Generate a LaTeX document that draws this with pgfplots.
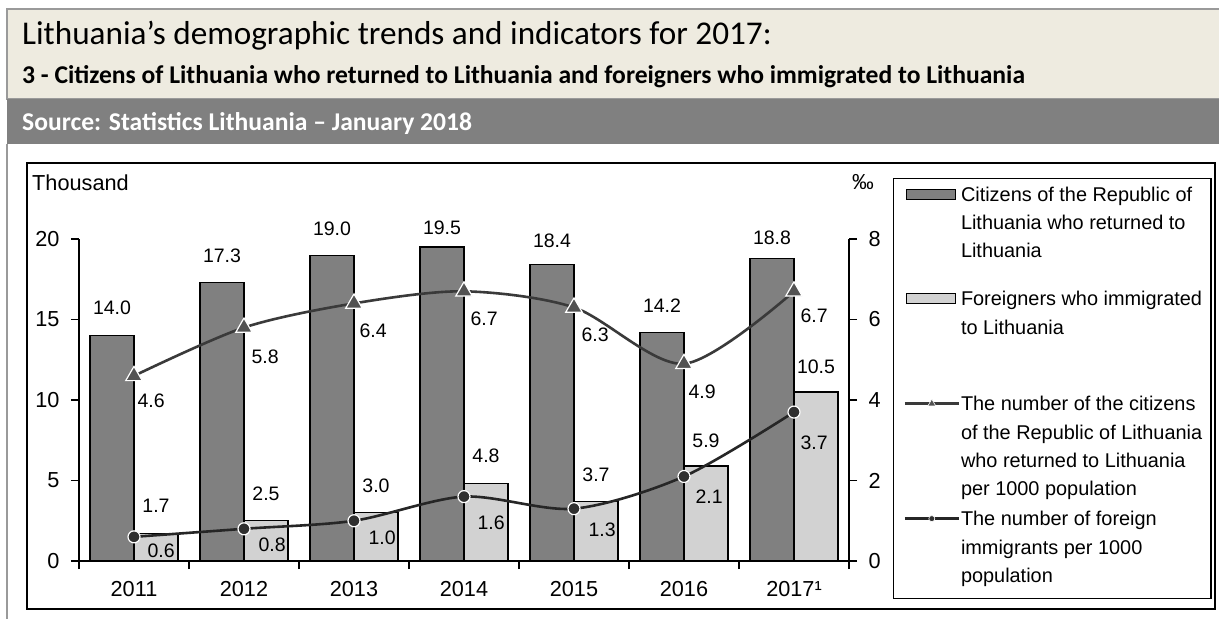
\documentclass[border=0pt]{standalone}
\usepackage{pgfplots}
\usepackage{pgfplotstable}
\pgfplotsset{compat=1.18}
\usepackage{fontspec}
\setmainfont{Liberation Sans}
\newfontfamily\calibri{Carlito}

\definecolor{beige}{HTML}{EEEBE0}
\definecolor{band}{HTML}{808080}
\definecolor{framegray}{HTML}{9A9A9A}
\definecolor{darkbar}{HTML}{808080}
\definecolor{lightbar}{HTML}{D2D2D2}
\definecolor{triline}{HTML}{3A3A3A}
\definecolor{dotline}{HTML}{262626}
\definecolor{trifill}{HTML}{525252}
\definecolor{dotfill}{HTML}{303030}

\newcommand\tickfont{\fontsize{21.7}{26}\selectfont}
\newcommand\labfont{\fontsize{19.5}{23}\selectfont}
\newcommand\legfont{\fontsize{19.9}{24}\selectfont}
% legend line: strut height (pt) + text
\newcommand\legline[2]{\makebox[240pt][l]{\rule{0pt}{#1pt}#2}}

% thousand; dy = label baseline above bar top
\pgfplotstableread{
x y dy
0 14.0 20
1 17.3 19
2 19.0 19
3 19.5 12
4 18.4 16
5 14.2 19
6 18.8 13
}\returned
\pgfplotstableread{
x y dy
0 1.7 21
1 2.5 19
2 3.0 19
3 4.8 20
4 3.7 19
5 5.9 18
6 10.5 18
}\foreign
% per 1000 population; dx, dy = label offset from the mark
\pgfplotstableread{
x y dx dy
0 4.6 3 32
1 5.8 7 36
2 6.4 5 34
3 6.7 6 34
4 6.3 7 34
5 4.9 4 35
6 6.7 6 31
}\rateret
\pgfplotstableread{
x y dx dy
0 0.6 13 21
1 0.8 14 23
2 1.0 14 24
3 1.6 13 33
4 1.3 14 28
5 2.1 11 27
6 3.7 6 37
}\ratefor

\pgfplotsset{
  barleg/.style={legend image code/.code={\draw[##1] (2pt,2pt) rectangle (51pt,12pt);}},
  lineleg/.style={legend image code/.code={%
    \draw[mark repeat=2,mark phase=2,##1] plot coordinates {(0pt,7pt) (27pt,7pt) (54pt,7pt)};}},
  chartaxis/.style={
    at={(79pt,58pt)}, anchor=south west,
    scale only axis, width=770pt, height=322pt,
    xmin=-0.5, xmax=6.5, clip=false,
    tick align=outside, major tick length=8pt,
    axis line style={line width=1.3pt},
    tick style={line width=1.3pt, black},
    tick label style={font=\tickfont},
    /pgf/number format/assume math mode=true,
  },
}

\begin{document}
\begin{tikzpicture}[x=1pt,y=1pt]
\useasboundingbox (0,0) rectangle (1219,619);
\fill[white] (0,0) rectangle (1219,619);

% header
\fill[beige] (7,520) rectangle (1219,610);
\draw[framegray, line width=1.5pt] (1219,610) -- (7,610) -- (7,520) -- (1219,520);
\fill[band] (7,475) rectangle (1219,520);
\draw[framegray, line width=1.2pt] (7,475) -- (7,0);
\node[anchor=base west, inner sep=0pt] at (22,574)
  {\calibri\fontsize{33.2}{38}\selectfont Lithuania’s demographic trends and indicators for 2017:};
\node[anchor=base west, inner sep=0pt] at (22,535)
  {\calibri\bfseries\fontsize{25.6}{30}\selectfont 3 - Citizens of Lithuania who returned to Lithuania and foreigners who immigrated to Lithuania};
\node[anchor=base west, inner sep=0pt, text=white] at (22,488)
  {\calibri\bfseries\fontsize{25.6}{30}\selectfont Source: Statistics Lithuania – January 2018};

% chart frame
\draw[black, line width=1.2pt] (27,10) rectangle (1215,456);

\begin{axis}[chartaxis,
  ymin=0, ymax=20,
  axis x line*=bottom, axis y line*=left,
  xtick={-0.5,0.5,...,6.5},
  xticklabels={2011,2012,2013,2014,2015,2016,2017¹,},
  xticklabel style={xshift=55pt, yshift=-9pt},
  yticklabel style={xshift=-8pt},
  ytick={0,5,10,15,20},
]
\addplot[ybar, bar width=0.4, bar shift=-0.2, fill=darkbar, draw=black, line width=1.2pt,
  point meta=explicit symbolic,
  visualization depends on={\thisrow{dy} \as \laby},
  nodes near coords,
  nodes near coords style={anchor=south, xshift=-22pt, yshift=\laby pt, inner sep=0pt, font=\labfont, text=black}]
  table[x=x, y=y, meta=y] {\returned};
\addplot[ybar, bar width=0.4, bar shift=0.2, fill=lightbar, draw=black, line width=1.2pt,
  point meta=explicit symbolic,
  visualization depends on={\thisrow{dy} \as \laby},
  nodes near coords,
  nodes near coords style={anchor=south, xshift=22pt, yshift=\laby pt, inner sep=0pt, font=\labfont, text=black}]
  table[x=x, y=y, meta=y] {\foreign};
\end{axis}

\begin{axis}[chartaxis,
  ymin=0, ymax=8,
  axis x line=none, axis y line*=right,
  ytick={0,2,4,6,8},
  yticklabel style={xshift=8pt},
  legend style={at={(1.05714,1.18944)}, anchor=north west,
    draw=black, line width=1.2pt, inner xsep=10pt, inner ysep=2pt,
    column sep=1pt, cells={anchor=base west},
    nodes={inner sep=0pt, text depth=0pt, font=\legfont}},
]
\addplot[forget plot, smooth, triline, line width=2.6pt,
  mark=triangle*, mark size=9.5pt,
  mark options={fill=trifill, draw=white, line width=1.2pt},
  point meta=explicit symbolic,
  visualization depends on={\thisrow{dx} \as \labx},
  visualization depends on={\thisrow{dy} \as \laby},
  nodes near coords,
  nodes near coords style={anchor=base west, xshift=\labx pt, yshift=-\laby pt, inner sep=0pt, font=\labfont, text=black}]
  table[x=x, y=y, meta=y] {\rateret};
\addplot[forget plot, smooth, dotline, line width=2.6pt,
  mark=*, mark size=6pt,
  mark options={fill=dotfill, draw=white, line width=1.2pt},
  point meta=explicit symbolic,
  visualization depends on={\thisrow{dx} \as \labx},
  visualization depends on={\thisrow{dy} \as \laby},
  nodes near coords,
  nodes near coords style={anchor=base west, xshift=\labx pt, yshift=-\laby pt, inner sep=0pt, font=\labfont, text=black}]
  table[x=x, y=y, meta=y] {\ratefor};

\addlegendimage{barleg, fill=darkbar, draw=black, line width=1.2pt}
\addlegendentry{\legline{21}{Citizens of the Republic of}}
\addlegendimage{empty legend}
\addlegendentry{\legline{28}{Lithuania who returned to}}
\addlegendimage{empty legend}
\addlegendentry{\legline{28}{Lithuania}}
\addlegendimage{barleg, fill=lightbar, draw=black, line width=1.2pt}
\addlegendentry{\legline{48}{Foreigners who immigrated}}
\addlegendimage{empty legend}
\addlegendentry{\legline{29}{to Lithuania}}
\addlegendimage{lineleg, triline, line width=2.4pt, mark=triangle*, mark size=4.5pt,
  mark options={fill=trifill, draw=white, line width=0.6pt}}
\addlegendentry{\legline{76}{The number of the citizens}}
\addlegendimage{empty legend}
\addlegendentry{\legline{29}{of the Republic of Lithuania}}
\addlegendimage{empty legend}
\addlegendentry{\legline{28}{who returned to Lithuania}}
\addlegendimage{empty legend}
\addlegendentry{\legline{28}{per 1000 population}}
\addlegendimage{lineleg, dotline, line width=2.4pt, mark=*, mark size=3pt,
  mark options={fill=dotfill, draw=white, line width=0.6pt}}
\addlegendentry{\legline{30}{The number of foreign}}
\addlegendimage{empty legend}
\addlegendentry{\legline{29}{immigrants per 1000}}
\addlegendimage{empty legend}
\addlegendentry{\legline{28}{population}}
\addlegendimage{empty legend}
\addlegendentry{\legline{14}{}}
\end{axis}

\node[anchor=base west, inner sep=0pt] at (32,428) {\tickfont Thousand};
\node[anchor=base, inner sep=0pt] at (863,429) {\tickfont ‰};
\end{tikzpicture}
\end{document}
